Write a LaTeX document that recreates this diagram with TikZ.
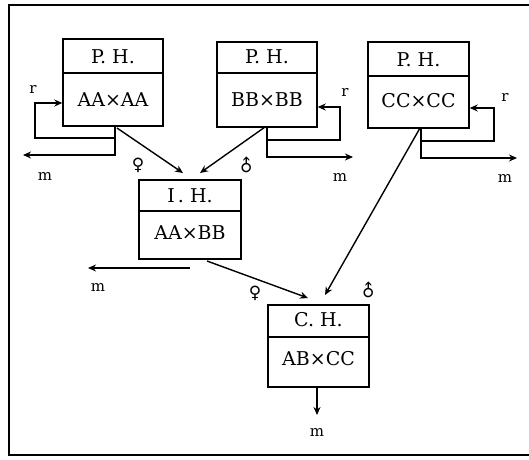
\documentclass[tikz,border=0pt]{standalone}
\usepackage{fontspec}
\setmainfont{DejaVu Serif}
\newfontfamily\symfont{DejaVu Sans}
\usetikzlibrary{arrows.meta,calc}
\tikzset{
  hbox/.style={draw, line width=1.4pt, rectangle, inner sep=0pt},
  htext/.style={inner sep=0pt, font=\fontsize{19}{23}\selectfont},
  lab/.style={inner sep=0pt, font=\fontsize{15}{18}\selectfont},
  sex/.style={inner sep=0pt, font=\symfont\fontsize{17}{20}\selectfont},
  ln/.style={line width=1.4pt},
  arr/.style={line width=1.4pt, -{Stealth[length=8pt,width=7pt]}},
}
\begin{document}
\begin{tikzpicture}[x=1pt,y=-1pt]
\useasboundingbox (0,0) rectangle (529,459);
\draw[line width=1.2pt] (529,5) -- (9,5) -- (9,455) -- (529,455);

% boxes
\node[hbox, minimum width=100pt, minimum height=87pt] (b1) at (113,82.5) {};
\node[hbox, minimum width=100pt, minimum height=85pt] (b2) at (267,84.5) {};
\node[hbox, minimum width=101pt, minimum height=86pt] (b3) at (418.5,85) {};
\node[hbox, minimum width=102pt, minimum height=79pt] (ih) at (190,219.5) {};
\node[hbox, minimum width=101pt, minimum height=82pt] (ch) at (318.5,346) {};

\draw[ln] (b1.west |- 0,73) -- (b1.east |- 0,73);
\draw[ln] (b2.west |- 0,73) -- (b2.east |- 0,73);
\draw[ln] (b3.west |- 0,76) -- (b3.east |- 0,76);
\draw[ln] (ih.west |- 0,211) -- (ih.east |- 0,211);
\draw[ln] (ch.west |- 0,337) -- (ch.east |- 0,337);

\node[htext] (h1) at (113,57) {P. H.};
\node[htext] (t1) at (113,100) {AA×AA};
\node[htext] (h2) at (267,57) {P. H.};
\node[htext] (t2) at (267,100) {BB×BB};
\node[htext] (h3) at (418.5,60) {P. H.};
\node[htext] (t3) at (418.5,101) {CC×CC};
\node[htext] (h4) at (190,196) {I\,. H.};
\node[htext] (t4) at (190,233) {AA×BB};
\node[htext] (h5) at (318.5,320) {C.\ H.};
\node[htext] (t5) at (318.5,359) {AB×CC};

% box 1 loops
\coordinate (o1) at (115,126);
\coordinate (r1a) at (115,138);
\coordinate (r1b) at (35,138);
\coordinate (r1c) at (35,103);
\coordinate (m1a) at (115,155);
\coordinate (m1b) at (23,155);
\draw[arr] (o1) -- (r1a) -- (r1b) -- (r1c) -- (b1.west |- r1c);
\draw[arr] (o1) -- (m1a) -- (m1b);
\node[lab] (lr1) at (33,89) {r};
\node[lab] (lm1) at (45,176) {m};

% box 2 loops
\coordinate (o2) at (267,127);
\coordinate (r2a) at (267,140);
\coordinate (r2b) at (340,140);
\coordinate (r2c) at (340,107);
\coordinate (m2a) at (267,157);
\coordinate (m2b) at (353,157);
\draw[arr] (o2) -- (r2a) -- (r2b) -- (r2c) -- (b2.east |- r2c);
\draw[arr] (o2) -- (m2a) -- (m2b);
\node[lab] (lr2) at (345,92) {r};
\node[lab] (lm2) at (340,177) {m};

% box 3 loops
\coordinate (o3) at (421,128);
\coordinate (r3a) at (421,141);
\coordinate (r3b) at (494,141);
\coordinate (r3c) at (494,108);
\coordinate (m3a) at (421,158);
\coordinate (m3b) at (517,158);
\draw[arr] (o3) -- (r3a) -- (r3b) -- (r3c) -- (b3.east |- r3c);
\draw[arr] (o3) -- (m3a) -- (m3b);
\node[lab] (lr3) at (505,97) {r};
\node[lab] (lm3) at (505,178) {m};

% crosses
\coordinate (s1) at (117,128);
\coordinate (e1) at (183,173);
\coordinate (s2) at (265,127);
\coordinate (e2) at (200,173);
\draw[arr] (s1) -- (e1);
\draw[arr] (s2) -- (e2);
\node[sex] (f1) at (138,165) {♀};
\node[sex] (m1s) at (247,166) {\rotatebox{45}{♂}};

\coordinate (ihm1) at (190,268);
\coordinate (ihm2) at (88,268);
\draw[arr] (ihm1) -- (ihm2);
\node[lab] (lm4) at (98,287) {m};

\coordinate (s3) at (207,261);
\coordinate (e3) at (308,298);
\coordinate (s4) at (420,128);
\coordinate (e4) at (325,295);
\draw[arr] (s3) -- (e3);
\draw[arr] (s4) -- (e4);
\node[sex] (f2) at (255,293) {♀};
\node[sex] (m2s) at (369,291) {\rotatebox{45}{♂}};

\coordinate (chm) at (317,415);
\draw[arr] (ch.south -| chm) -- (chm);
\node[lab] (lm5) at (317,432) {m};
\end{tikzpicture}
\end{document}
